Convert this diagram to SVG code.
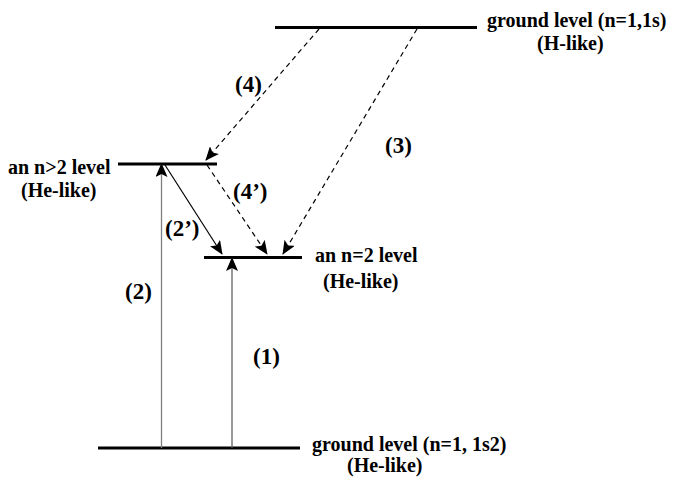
<svg xmlns="http://www.w3.org/2000/svg" width="673" height="477" viewBox="0 0 673 477">
<style>
.lvl{stroke:#000;stroke-width:3;fill:none}
.t{font-family:"Liberation Serif","Times New Roman",serif;font-weight:bold;font-size:20px;fill:#000}
.lb{font-family:"Liberation Serif","Times New Roman",serif;font-weight:bold;font-size:23px;fill:#000}
.solid{stroke:#000;stroke-width:1.2;fill:none}
.dash{stroke:#000;stroke-width:1.2;fill:none;stroke-dasharray:5 4}
</style>
<defs>
<marker id="ah" markerUnits="userSpaceOnUse" markerWidth="14" markerHeight="12" viewBox="0 0 14 12" refX="13" refY="6" orient="auto">
<path d="M0,0 L14,6 L0,12 L3,6 z" fill="#000"/>
</marker>
</defs>
<rect width="673" height="477" fill="#fff"/>
<g id="level-top">
<line class="lvl" x1="275" y1="27.5" x2="477" y2="27.5"/>
<text class="t" x="487" y="27">ground level (n=1,1s)</text>
<text class="t" x="537" y="50">(H-like)</text>
</g>
<g id="level-n3">
<line class="lvl" x1="118" y1="164" x2="217" y2="164"/>
<text class="t" x="8" y="174">an n&gt;2 level</text>
<text class="t" x="21" y="197">(He-like)</text>
</g>
<g id="level-n2">
<line class="lvl" x1="204" y1="257.5" x2="302" y2="257.5"/>
<text class="t" x="315" y="262">an n=2 level</text>
<text class="t" x="323" y="288">(He-like)</text>
</g>
<g id="level-ground">
<line class="lvl" x1="98" y1="448" x2="300" y2="448"/>
<text class="t" x="312" y="451">ground level (n=1, 1s2)</text>
<text class="t" x="347" y="472">(He-like)</text>
</g>
<g id="connectors">
<line x1="161.5" y1="448" x2="161.5" y2="164" stroke="#808080" stroke-width="1.3" marker-end="url(#ah)"/>
<line x1="232" y1="448" x2="232" y2="258" stroke="#555" stroke-width="1.2" marker-end="url(#ah)"/>
<line class="solid" x1="165" y1="165" x2="222" y2="254" marker-end="url(#ah)"/>
<line class="dash" x1="207" y1="165" x2="267" y2="254" marker-end="url(#ah)"/>
<line class="dash" x1="417" y1="29" x2="283" y2="254" marker-end="url(#ah)"/>
<line class="dash" x1="319" y1="29" x2="206" y2="160" marker-end="url(#ah)"/>
<text class="lb" x="235" y="92">(4)</text>
<text class="lb" x="385" y="153">(3)</text>
<text class="lb" x="233" y="199">(4’)</text>
<text class="lb" x="165" y="236">(2’)</text>
<text class="lb" x="125" y="299">(2)</text>
<text class="lb" x="253" y="364">(1)</text>
</g>
</svg>
